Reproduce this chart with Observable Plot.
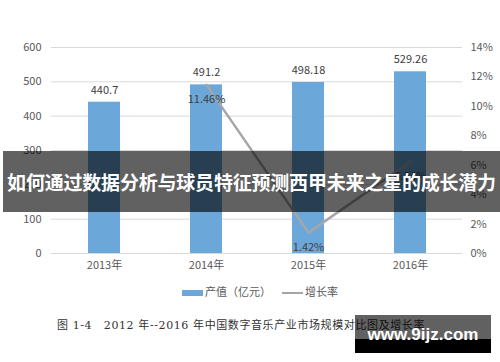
<!DOCTYPE html>
<html>
<head>
<meta charset="utf-8">
<script src="https://cdn.jsdelivr.net/npm/d3@7"></script>
<script src="https://cdn.jsdelivr.net/npm/@observablehq/plot@0.6"></script>
<style>
  body { margin: 0; background: #fff; }
  #wrap { position: relative; width: 500px; height: 362px; overflow: hidden; font-family: "Noto Sans CJK SC", sans-serif; }
  #chart { position: absolute; left: 0; top: 0; }
  .legend { position: absolute; top: 283px; font-size: 11px; color: #595959; line-height: 16px; }
  .sw { display: inline-block; vertical-align: middle; }
  #caption { position: absolute; left: 57px; top: 316px; font-size: 11px; color: #333; letter-spacing: 0.6px; font-family: "DejaVu Serif", "Noto Sans CJK SC", serif; white-space: nowrap; }
  #banner { position: absolute; left: 3px; top: 151px; width: 497px; height: 61px; background: rgba(0,0,0,0.62); color: #fff; font-weight: bold; font-size: 19px; line-height: 61px; text-align: center; white-space: nowrap; letter-spacing: -0.2px; }
  #wm { position: absolute; left: 355px; top: 315px; width: 136px; height: 38px; }
  #wm .top { position: absolute; left: 0; top: 0; width: 100%; height: 24px; background: rgba(0,0,0,0.62); }
  #wm .bot { position: absolute; left: 0; top: 24px; width: 100%; height: 14px; background: #000; }
  #wm .txt { position: absolute; left: 0; top: 0; width: 100%; height: 38px; line-height: 40px; text-align: center; color: #fff; font-weight: bold; font-size: 17px; font-family: "Liberation Sans", Arial, sans-serif; }
</style>
</head>
<body>
<div id="wrap">
  <div id="chart"></div>
  <div class="legend" style="left:182px;"><span class="sw" style="width:21px;height:6px;background:#6ba7d8;margin-right:2px;"></span>产值（亿元）</div>
  <div class="legend" style="left:282px;"><span class="sw" style="width:21px;height:2px;background:#a6a6a6;margin-right:2px;"></span>增长率</div>
  <div id="caption">图 1-4　2012 年--2016 年中国数字音乐产业市场规模对比图及增长率</div>
  <div id="banner">如何通过数据分析与球员特征预测西甲未来之星的成长潜力</div>
  <div id="wm"><div class="top"></div><div class="bot"></div><div class="txt">www.9ijz.com</div></div>
</div>
<script>
const years = ["2013年", "2014年", "2015年", "2016年"];
const output = [440.7, 491.2, 498.18, 529.26];
const outputLabels = ["440.7", "491.2", "498.18", "529.26"];
const growthYears = ["2014年", "2015年", "2016年"];
const growth = [11.46, 1.42, 6.24];
const growthLabels = ["11.46%", "1.42%", "6.24%"];
const leftTicks = [0, 100, 200, 300, 400, 500, 600];
const rightTicks = [0, 2, 4, 6, 8, 10, 12, 14];

const pctMax = 14, valMax = 600;
const toLeft = p => p * valMax / pctMax;

const bars = years.map((y, i) => ({year: y, value: output[i], label: outputLabels[i]}));
const line = growthYears.map((y, i) => ({year: y, value: toLeft(growth[i]), label: growthLabels[i]}));

const chart = Plot.plot({
  width: 500,
  height: 280,
  marginTop: 47,
  marginBottom: 27,
  marginLeft: 51,
  marginRight: 38,
  style: {fontFamily: "'Noto Sans CJK SC', sans-serif", fontSize: "11px", color: "#595959", background: "transparent"},
  x: {domain: years, paddingInner: 0.69, paddingOuter: 0.345},
  y: {domain: [0, valMax]},
  marks: [
    Plot.ruleY(leftTicks, {stroke: "#d9d9d9", strokeWidth: 1}),
    Plot.barY(bars, {x: "year", y: "value", fill: "#6ba7d8"}),
    Plot.text(bars, {x: "year", y: "value", text: "label", dy: -12, fill: "#404040", fontSize: 11}),
    Plot.line(line, {x: "year", y: "value", stroke: "#a6a6a6", strokeWidth: 2.5}),
    Plot.text(line, {x: "year", y: "value", text: "label", dy: 15, fill: "#404040", fontSize: 11}),
    Plot.axisY(leftTicks, {anchor: "left", tickSize: 0, tickPadding: 10, label: null, tickFormat: d => d, fill: "#595959"}),
    Plot.axisY(rightTicks.map(toLeft), {anchor: "right", tickSize: 0, tickPadding: 8, label: null, tickFormat: d => Math.round(d * pctMax / valMax) + "%", fill: "#595959"}),
    Plot.axisX({tickSize: 0, tickPadding: 8, label: null, fill: "#595959"})
  ]
});
document.getElementById("chart").appendChild(chart);
</script>
</body>
</html>
